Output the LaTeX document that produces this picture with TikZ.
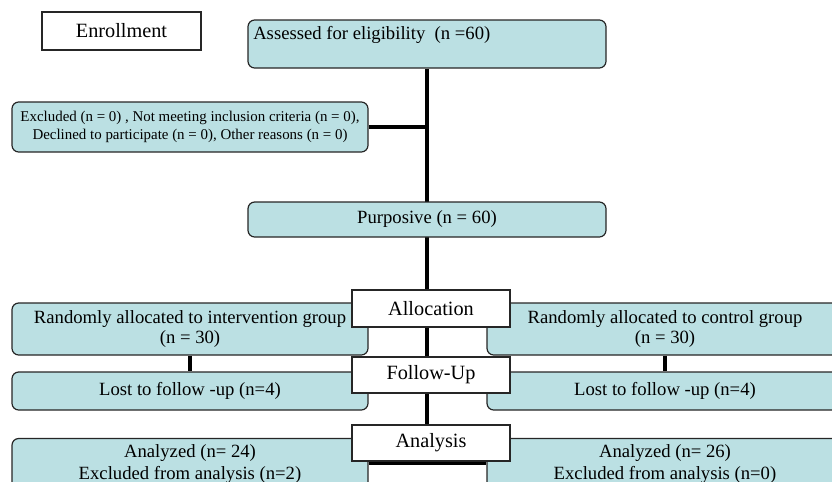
\documentclass[tikz,border=0pt]{standalone}
\usepackage{fontspec}
\setmainfont{Liberation Serif}
\usetikzlibrary{backgrounds}
\definecolor{boxfill}{RGB}{187,224,227}
\begin{document}
\begin{tikzpicture}[x=0.75pt,y=-0.75pt,
  rbox/.style={draw=black!85, fill=boxfill, rounded corners=5pt, line width=0.9pt, inner sep=0pt, align=center, font=\fontsize{14}{18}\selectfont},
  wbox/.style={draw=black!85, fill=white, line width=0.9pt, inner sep=0pt, align=center, font=\fontsize{15.2}{17}\selectfont},
  sidebox/.style={rbox, minimum width=267pt},
  midbox/.style={wbox, minimum width=118.5pt},
  link/.style={line width=2.4pt, black}]
\clip (0,0) rectangle (832,482);
\useasboundingbox (0,0) rectangle (832,482);

\node[wbox, minimum width=119.25pt, minimum height=28.5pt] (enr) at (121.5,31) {Enrollment};
\node[rbox, minimum width=268.5pt, minimum height=36pt] (assess) at (427,44) {};
\node[anchor=west, inner sep=0pt, font=\fontsize{14}{17}\selectfont] (assesstxt) at (253,35) {Assessed for eligibility\ \ (n =60)};
\node[sidebox, minimum height=37.5pt, font=\fontsize{11.2}{13.5}\selectfont] (excl) at (190,127)
  {Excluded (n = 0) , Not meeting inclusion criteria (n = 0),\\Declined to participate (n = 0), Other reasons (n = 0)};
\node[rbox, minimum width=268.5pt, minimum height=26.25pt] (purp) at (427,219.5) {Purposive (n = 60)};

\node[sidebox, minimum height=39pt, font=\fontsize{14}{15.5}\selectfont] (randL) at (190,329) {Randomly allocated to intervention group\\(n = 30)};
\node[sidebox, minimum height=39pt, font=\fontsize{14}{15.5}\selectfont] (randR) at (665,329) {Randomly allocated to control group\\(n = 30)};
\node[midbox, minimum height=27.75pt] (alloc) at (431,308.5) {Allocation};

\node[sidebox, minimum height=28.5pt] (lostL) at (190,391) {Lost to follow -up (n=4)};
\node[sidebox, minimum height=28.5pt] (lostR) at (665,391) {Lost to follow -up (n=4)};
\node[midbox, minimum height=27pt] (follow) at (431,375) {Follow-Up};

\node[sidebox, minimum height=38.25pt, font=\fontsize{14}{16}\selectfont] (anaL) at (190,464) {Analyzed (n= 24)\\Excluded from analysis (n=2)};
\node[sidebox, minimum height=38.25pt, font=\fontsize{14}{16}\selectfont] (anaR) at (665,464) {Analyzed (n= 26)\\Excluded from analysis (n=0)};
\node[midbox, minimum height=27pt] (analysis) at (431,443) {Analysis};

\coordinate (j) at (427,463);
\begin{pgfonlayer}{background}
  \draw[link] (assess.south) -- (j);
  \draw[link] (excl.east) -- (excl.east -| assess.south);
  \draw[link] (randL.south) -- (lostL.north);
  \draw[link] (randR.south) -- (lostR.north);
  \draw[link] (anaL.east |- j) -- (anaR.west |- j);
\end{pgfonlayer}
\end{tikzpicture}
\end{document}
